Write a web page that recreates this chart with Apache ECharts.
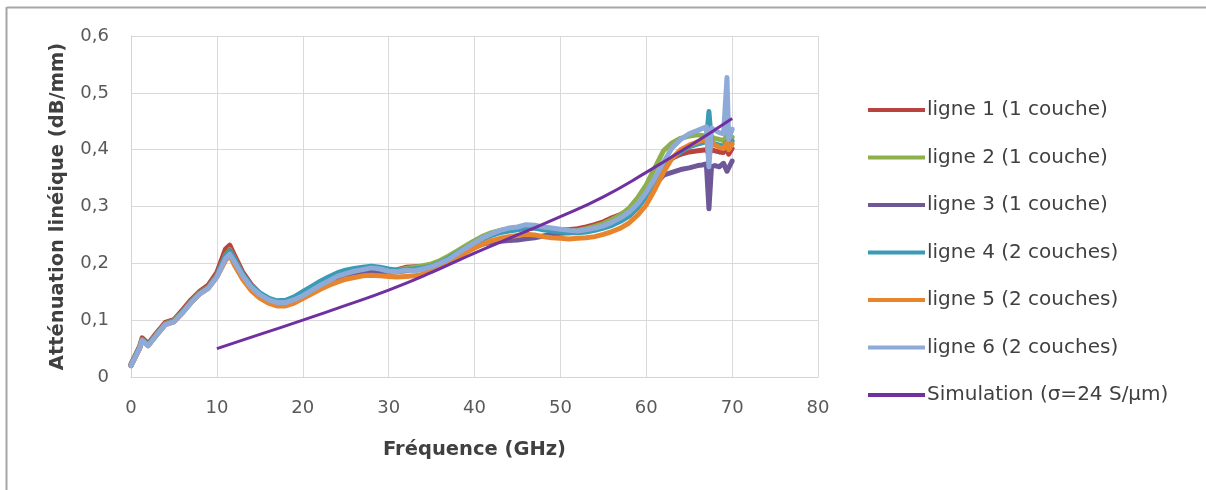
<!DOCTYPE html>
<html>
<head>
<meta charset="utf-8">
<script src="https://cdn.jsdelivr.net/npm/echarts@6/dist/echarts.min.js"></script>
<style>
html,body{margin:0;padding:0;background:#fff;}
#chart{width:1206px;height:490px;}
</style>
</head>
<body>
<div id="chart"></div>
<script>
// Frequency (GHz) sample points shared by the six measured lines
const freq = [
  0,1,1.3,2,3,4,5,6,7,8,
  9,10,11,11.5,12,13,14,15,16,17,
  18,19,20,21,22,23,24,25,26,27,
  28,29,30,31,32,33,34,35,36,37,
  38,39,40,41,42,43,44,45,46,47,
  48,49,50,51,52,53,54,55,56,57,
  58,59,60,61,62,63,64,65,66,66.5,
  67,67.3,67.6,68,68.5,69,69.4,69.6,70
];
const ligne1 = [
  0.023,0.054,0.069,0.059,0.078,0.096,0.101,0.118,0.136,0.151,
  0.162,0.184,0.225,0.232,0.216,0.185,0.163,0.147,0.137,0.132,
  0.132,0.137,0.144,0.152,0.160,0.168,0.175,0.180,0.184,0.187,
  0.188,0.187,0.186,0.189,0.193,0.194,0.195,0.197,0.203,0.211,
  0.220,0.229,0.238,0.246,0.251,0.255,0.258,0.260,0.262,0.262,
  0.261,0.260,0.259,0.259,0.261,0.264,0.268,0.273,0.280,0.286,
  0.294,0.306,0.326,0.350,0.372,0.385,0.392,0.396,0.398,0.399,
  0.400,0.392,0.400,0.398,0.396,0.395,0.408,0.392,0.402
];
const ligne2 = [
  0.021,0.052,0.066,0.057,0.076,0.094,0.099,0.115,0.133,0.148,
  0.158,0.179,0.214,0.224,0.210,0.181,0.160,0.146,0.136,0.131,
  0.131,0.136,0.144,0.153,0.162,0.170,0.177,0.182,0.185,0.188,
  0.189,0.188,0.187,0.188,0.191,0.193,0.196,0.199,0.205,0.213,
  0.222,0.231,0.240,0.248,0.254,0.258,0.261,0.262,0.264,0.263,
  0.261,0.259,0.258,0.257,0.258,0.261,0.265,0.270,0.277,0.285,
  0.297,0.315,0.338,0.368,0.398,0.412,0.420,0.424,0.426,0.425,
  0.424,0.410,0.422,0.420,0.418,0.416,0.425,0.410,0.422
];
const ligne3 = [
  0.020,0.051,0.065,0.056,0.075,0.093,0.098,0.114,0.132,0.147,
  0.157,0.178,0.212,0.222,0.208,0.180,0.159,0.145,0.135,0.130,
  0.130,0.135,0.142,0.150,0.158,0.166,0.173,0.178,0.182,0.185,
  0.186,0.185,0.184,0.185,0.187,0.188,0.190,0.193,0.199,0.206,
  0.214,0.222,0.229,0.234,0.237,0.239,0.240,0.241,0.243,0.245,
  0.248,0.251,0.253,0.254,0.255,0.257,0.260,0.264,0.270,0.278,
  0.288,0.300,0.318,0.338,0.355,0.360,0.365,0.368,0.372,0.373,
  0.375,0.296,0.370,0.372,0.370,0.376,0.362,0.368,0.380
];
const ligne4 = [
  0.021,0.051,0.065,0.056,0.075,0.093,0.098,0.114,0.132,0.147,
  0.157,0.178,0.212,0.221,0.208,0.181,0.161,0.148,0.139,0.134,
  0.135,0.141,0.150,0.159,0.168,0.176,0.183,0.188,0.191,0.193,
  0.195,0.193,0.190,0.188,0.189,0.190,0.192,0.195,0.201,0.209,
  0.218,0.227,0.235,0.243,0.249,0.254,0.257,0.259,0.262,0.262,
  0.259,0.257,0.255,0.254,0.254,0.255,0.258,0.262,0.267,0.274,
  0.283,0.298,0.318,0.343,0.368,0.385,0.396,0.405,0.410,0.412,
  0.414,0.467,0.412,0.410,0.408,0.406,0.414,0.402,0.415
];
const ligne5 = [
  0.020,0.050,0.064,0.055,0.074,0.092,0.097,0.113,0.131,0.146,
  0.156,0.176,0.205,0.214,0.198,0.172,0.152,0.139,0.130,0.125,
  0.125,0.130,0.138,0.146,0.154,0.161,0.167,0.172,0.175,0.178,
  0.179,0.178,0.177,0.176,0.177,0.178,0.181,0.186,0.193,0.201,
  0.210,0.219,0.227,0.234,0.240,0.244,0.247,0.249,0.251,0.250,
  0.247,0.245,0.244,0.243,0.244,0.245,0.247,0.251,0.256,0.262,
  0.271,0.285,0.303,0.330,0.360,0.385,0.400,0.408,0.414,0.416,
  0.418,0.395,0.412,0.408,0.404,0.402,0.412,0.400,0.410
];
const ligne6 = [
  0.020,0.050,0.064,0.055,0.074,0.092,0.097,0.113,0.131,0.146,
  0.156,0.176,0.208,0.216,0.204,0.178,0.158,0.145,0.136,0.131,
  0.131,0.136,0.143,0.152,0.161,0.169,0.177,0.182,0.186,0.189,
  0.192,0.190,0.186,0.185,0.188,0.187,0.190,0.194,0.200,0.207,
  0.217,0.227,0.236,0.245,0.252,0.258,0.262,0.264,0.268,0.267,
  0.264,0.262,0.260,0.258,0.257,0.259,0.262,0.266,0.272,0.280,
  0.290,0.305,0.325,0.350,0.378,0.403,0.418,0.428,0.434,0.437,
  0.440,0.370,0.438,0.434,0.430,0.428,0.527,0.418,0.436
];
const simFreq = [10,15,20,25,30,35,40,45,50,55,60,65,70];
const simVal  = [0.050,0.075,0.100,0.126,0.153,0.184,0.218,0.250,0.282,0.317,0.360,0.406,0.455];

const names = ['ligne 1 (1 couche)','ligne 2 (1 couche)','ligne 3 (1 couche)',
               'ligne 4 (2 couches)','ligne 5 (2 couches)','ligne 6 (2 couches)',
               'Simulation (\u03c3=24 S/\u00b5m)'];
const colors = ['#b9433f','#8db04c','#6f5897','#3b9bb5','#e7852f','#8eaad8','#7030a0'];
const yTicks = ['0','0,1','0,2','0,3','0,4','0,5','0,6'];

const measured = [ligne1,ligne2,ligne3,ligne4,ligne5,ligne6];
const series = measured.map((vals,i)=>({
  name: names[i], type:'line', symbol:'none', showSymbol:false,
  data: freq.map((f,j)=>[f, vals[j]]),
  lineStyle:{width:5, color:colors[i], join:'round', cap:'round'}, itemStyle:{color:colors[i]},
  z: 2+i, animation:false
}));
series.push({
  name: names[6], type:'line', symbol:'none', showSymbol:false, smooth:true,
  data: simFreq.map((f,j)=>[f, simVal[j]]),
  lineStyle:{width:3, color:colors[6]}, itemStyle:{color:colors[6]},
  z: 10, animation:false
});

const chart = echarts.init(document.getElementById('chart'), null, {renderer:'canvas'});
chart.setOption({
  animation:false,
  backgroundColor:'#fff',
  graphic:[
    {type:'line', shape:{x1:7,y1:7.5,x2:1206,y2:7.5}, style:{stroke:'#a6a6a6', lineWidth:2}},
    {type:'line', shape:{x1:6.5,y1:7,x2:6.5,y2:490}, style:{stroke:'#a6a6a6', lineWidth:2}}
  ],
  grid:{left:131, right:388, top:36, bottom:113, containLabel:false, outerBoundsMode:'none'},
  legend:{
    orient:'vertical', left:863, top:93,
    itemWidth:57, itemHeight:4, itemGap:23.5,
    icon:'rect',
    data: names.map((n,i)=>({name:n, icon:'rect', itemStyle:{color:colors[i]}})),
    textStyle:{fontFamily:'DejaVu Sans', fontSize:20, color:'#404040', lineHeight:24, padding:[0,0,0,-3]}
  },
  xAxis:{
    type:'value', min:0, max:80, interval:10,
    name:'Fréquence (GHz)', nameLocation:'middle', nameGap:63,
    nameTextStyle:{fontFamily:'DejaVu Sans', fontWeight:'bold', fontSize:19.5, color:'#404040'},
    axisLine:{show:true, lineStyle:{color:'#d4d4d4', width:1}},
    axisTick:{show:false},
    axisLabel:{fontFamily:'DejaVu Sans', fontSize:18, color:'#595959', margin:22},
    splitLine:{show:true, lineStyle:{color:'#d9d9d9', width:1}}
  },
  yAxis:{
    type:'value', min:0, max:0.6, interval:0.1,
    name:'Atténuation linéique (dB/mm)', nameLocation:'middle', nameGap:63, nameRotate:90,
    nameTextStyle:{fontFamily:'DejaVu Sans', fontWeight:'bold', fontSize:19.5, color:'#404040'},
    axisLine:{show:true, lineStyle:{color:'#d4d4d4', width:1}},
    axisTick:{show:false},
    axisLabel:{fontFamily:'DejaVu Sans', fontSize:18, color:'#595959', margin:22,
      formatter:(v)=>yTicks[Math.round(v*10)]},
    splitLine:{show:true, lineStyle:{color:'#d9d9d9', width:1}}
  },
  series: series
});
</script>
</body>
</html>
